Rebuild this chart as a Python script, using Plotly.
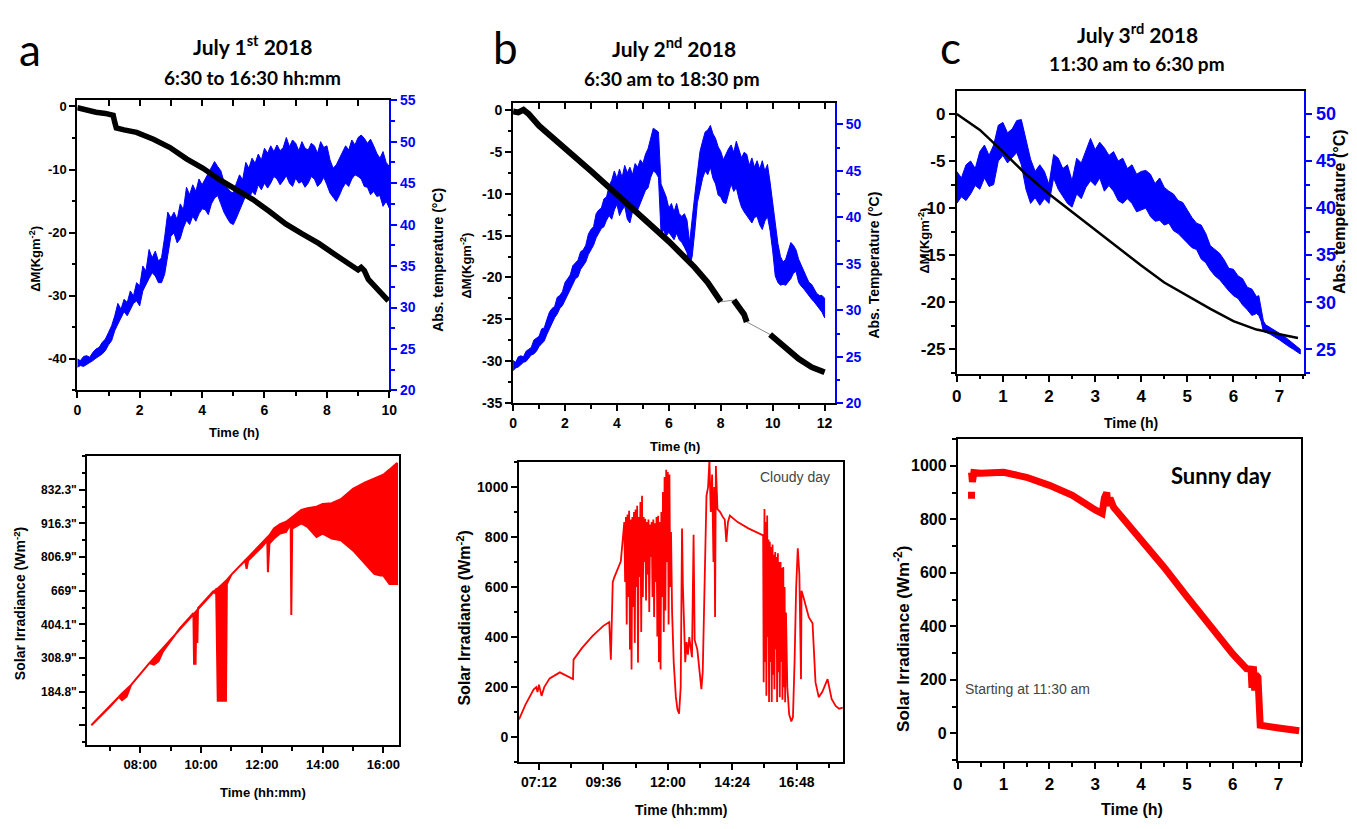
import plotly.graph_objects as go

W, H = 1357, 829

# ---------------- DATA ----------------
# Panel a (July 1st) : mass change and absorber temperature vs time (h)
t_dm_a = [0, 0.3, 0.6, 0.9, 1.15, 1.2, 1.25, 1.5, 1.9, 2.44, 2.97, 3.5, 4.03, 4.56, 5.09, 5.62,
          6.15, 6.68, 7.21, 7.74, 8.27, 8.8, 9.0, 9.1, 9.2, 9.33, 9.65, 9.97]
dm_a = [-0.2, -0.6, -0.9, -1.1, -1.4, -2.5, -3.4, -3.7, -4.1, -5.2, -6.5, -8.3, -9.8, -11.6, -13.2, -14.7,
        -16.6, -18.6, -20.2, -21.7, -23.5, -25.3, -25.9, -25.5, -26.0, -27.4, -29.0, -30.8]
t_temp_a = [0.0, 0.1, 0.2, 0.3, 0.4, 0.5, 0.6, 0.7, 0.8, 0.9, 1.0, 1.1, 1.2, 1.3, 1.4, 1.5, 1.6, 1.7,
            1.8, 1.9, 2.0, 2.1, 2.2, 2.3, 2.4, 2.5, 2.6, 2.7, 2.8, 2.9, 3.0, 3.1, 3.2, 3.3, 3.4, 3.5,
            3.6, 3.7, 3.8, 3.9, 4.0, 4.1, 4.2, 4.3, 4.4, 4.5, 4.6, 4.7, 4.8, 4.9, 5.0, 5.1, 5.2, 5.3,
            5.4, 5.5, 5.6, 5.7, 5.8, 5.9, 6.0, 6.1, 6.2, 6.3, 6.4, 6.5, 6.6, 6.7, 6.8, 6.9, 7.0, 7.1,
            7.2, 7.3, 7.4, 7.5, 7.6, 7.7, 7.8, 7.9, 8.0, 8.1, 8.2, 8.3, 8.4, 8.5, 8.6, 8.7, 8.8, 8.9,
            9.0, 9.1, 9.2, 9.3, 9.4, 9.5, 9.6, 9.7, 9.8, 9.9, 10.0]
temp_hi_a = [23.8, 23.6, 24.1, 24.2, 24.0, 24.6, 25.0, 25.2, 25.8, 26.2, 27.0, 27.8, 29.0, 30.5, 29.8,
             31.0, 30.6, 32.0, 31.4, 33.0, 32.6, 35.0, 34.4, 37.0, 36.0, 36.8, 35.6, 36.0, 38.5, 41.5,
             40.8, 41.5, 40.6, 42.5, 41.8, 44.5, 43.6, 44.8, 44.0, 45.5, 44.8, 45.5, 46.2, 47.0, 47.6,
             47.0, 46.5, 45.2, 44.5, 44.0, 43.8, 45.0, 46.0, 45.4, 47.5, 46.8, 48.0, 47.4, 48.5, 47.8,
             49.2, 48.6, 49.5, 48.8, 49.6, 48.9, 49.3, 50.5, 49.4, 50.2, 49.8, 48.9, 50.0, 49.2, 49.0,
             49.8, 49.5, 48.6, 50.0, 49.3, 49.5, 47.8, 46.8, 47.2, 48.0, 48.8, 49.5, 49.0, 50.2, 49.6,
             50.5, 50.8, 50.4, 49.8, 50.3, 49.5, 48.6, 48.0, 48.8, 47.5, 47.0]
temp_lo_a = [22.8, 23.0, 22.9, 23.2, 23.4, 23.6, 23.9, 24.2, 24.4, 24.8, 25.5, 26.0, 27.2, 28.0, 28.8,
             29.5, 29.0, 29.8, 30.5, 30.8, 30.2, 32.0, 32.8, 33.5, 34.2, 33.8, 33.0, 33.0, 34.0, 36.5,
             38.6, 39.0, 37.8, 38.3, 39.6, 40.5, 40.0, 41.0, 40.4, 41.3, 41.9, 41.8, 41.2, 42.5, 43.2,
             43.5, 42.5, 41.5, 40.8, 40.2, 40.0, 40.8, 41.5, 42.6, 43.5, 43.0, 44.0, 43.6, 44.8, 44.2,
             45.0, 44.4, 45.0, 45.8, 45.5, 44.8, 45.3, 45.9, 45.0, 44.6, 45.6, 45.0, 45.2, 44.5, 45.0,
             45.8, 45.5, 44.6, 45.0, 45.7, 44.8, 43.8, 43.3, 42.8, 43.5, 44.4, 45.0, 44.6, 45.5, 46.0,
             45.8, 45.5, 44.6, 44.5, 43.6, 44.0, 43.4, 43.5, 42.2, 42.8, 42.0]

# Panel b (July 2nd)
t_dm_b = [0, 0.2, 0.4, 0.6, 1.0, 1.5, 2.0, 3.0, 4.0, 5.0, 6.0, 7.0, 7.5, 8.0, 8.25, 8.5, 8.7, 8.9, 9.0,
          9.45, 9.9, 10.2, 10.6, 11.0, 11.5, 12.0]
dm_b = [-0.2, -0.3, 0.0, -0.5, -1.9, -3.2, -4.6, -7.3, -10.1, -12.8, -15.7, -18.8, -20.6, -22.9, None,
        -22.7, -23.6, -24.4, -25.3, None, -26.8, -27.6, -28.6, -29.7, -30.7, -31.3]
t_temp_b = [0.0, 0.1, 0.2, 0.3, 0.4, 0.5, 0.6, 0.7, 0.8, 0.9, 1.0, 1.1, 1.2, 1.3, 1.4, 1.5, 1.6, 1.7,
            1.8, 1.9, 2.0, 2.1, 2.2, 2.3, 2.4, 2.5, 2.6, 2.7, 2.8, 2.9, 3.0, 3.1, 3.2, 3.3, 3.4, 3.5,
            3.6, 3.7, 3.8, 3.9, 4.0, 4.1, 4.2, 4.3, 4.4, 4.5, 4.6, 4.7, 4.8, 4.9, 5.0, 5.1, 5.2, 5.3,
            5.4, 5.5, 5.6, 5.7, 5.8, 5.9, 6.0, 6.1, 6.2, 6.3, 6.4, 6.5, 6.6, 6.7, 6.8, 6.9, 7.0, 7.1,
            7.2, 7.3, 7.4, 7.5, 7.6, 7.7, 7.8, 7.9, 8.0, 8.1, 8.2, 8.3, 8.4, 8.5, 8.6, 8.7, 8.8, 8.9,
            9.0, 9.1, 9.2, 9.3, 9.4, 9.5, 9.6, 9.7, 9.8, 9.9, 10.0, 10.1, 10.2, 10.3, 10.4, 10.5, 10.6,
            10.7, 10.8, 10.9, 11.0, 11.1, 11.2, 11.3, 11.4, 11.5, 11.6, 11.7, 11.8, 11.9, 12.0]
temp_hi_b = [24.6, 24.4, 25.0, 25.1, 25.0, 25.6, 25.8, 26.0, 26.8, 27.0, 27.2, 28.0, 28.1, 29.0, 29.8,
             30.2, 30.4, 31.4, 31.6, 32.0, 33.0, 33.4, 33.8, 34.8, 35.1, 35.4, 36.3, 36.5, 37.0, 38.2,
             38.7, 39.0, 40.4, 40.8, 41.0, 42.0, 42.2, 43.4, 44.0, 45.0, 44.2, 45.2, 44.3, 45.6, 44.8,
             45.4, 44.6, 45.8, 45.4, 46.2, 45.8, 46.8, 47.4, 48.5, 49.6, 49.4, 49.2, 43.6, 42.8, 42.2,
             41.0, 41.5, 40.6, 41.5, 40.4, 40.1, 40.4, 39.7, 37.3, 40.1, 42.4, 44.8, 47.1, 48.2, 49.2,
             49.4, 49.9, 49.0, 48.5, 47.6, 47.1, 46.2, 46.8, 47.4, 47.8, 47.0, 48.2, 47.2, 46.4, 47.0,
             46.8, 45.6, 46.4, 45.4, 46.1, 45.2, 46.1, 45.0, 45.7, 43.8, 41.5, 39.4, 37.2, 35.8, 35.2,
             35.5, 36.4, 37.3, 37.0, 36.5, 35.5, 34.8, 34.1, 33.6, 33.0, 32.8, 32.3, 31.8, 31.6, 31.6,
             31.3]
temp_lo_b = [23.5, 23.8, 23.9, 24.1, 24.4, 24.5, 24.8, 25.2, 25.3, 25.6, 26.1, 26.4, 26.7, 27.4, 28.0,
             28.5, 29.2, 29.6, 30.2, 30.5, 31.0, 31.6, 32.2, 32.8, 33.4, 33.6, 34.4, 34.8, 35.2, 36.0,
             36.5, 37.0, 37.8, 38.3, 38.8, 39.0, 39.7, 40.2, 39.8, 40.8, 41.4, 40.2, 40.8, 41.2, 39.8,
             39.4, 40.6, 41.0, 40.8, 41.6, 42.2, 42.9, 43.2, 44.3, 45.0, 44.8, 44.3, 38.3, 38.6, 38.0,
             38.4, 38.0, 37.6, 38.3, 37.6, 37.3, 36.8, 36.2, 34.8, 35.8, 38.5, 41.6, 42.9, 44.2, 45.0,
             44.6, 45.4, 44.2, 43.6, 42.4, 42.2, 41.6, 41.5, 42.6, 43.6, 42.8, 43.2, 42.0, 41.1, 40.6,
             40.1, 39.8, 39.4, 40.0, 40.1, 39.2, 38.7, 39.6, 40.1, 38.6, 36.4, 33.7, 33.0, 32.7, 32.8,
             32.7, 33.0, 33.4, 34.0, 34.2, 33.0, 32.6, 32.3, 32.0, 31.6, 31.2, 30.9, 30.6, 30.2, 29.8,
             29.2]

# Panel c (July 3rd)
t_dm_c = [0, 0.5, 1, 1.5, 2, 2.5, 3, 3.5, 4, 4.5, 5, 5.5, 6, 6.5, 7, 7.4]
dm_c = [0, -1.7, -4.0, -6.4, -8.5, -10.4, -12.3, -14.2, -16.1, -17.9, -19.3, -20.7, -22.0, -22.9, -23.4, -23.8]
t_temp_c = [0.0, 0.1, 0.2, 0.3, 0.4, 0.5, 0.6, 0.7, 0.8, 0.9, 1.0, 1.1, 1.2, 1.3, 1.4, 1.5, 1.6, 1.7,
            1.8, 1.9, 2.0, 2.1, 2.2, 2.3, 2.4, 2.5, 2.6, 2.7, 2.8, 2.9, 3.0, 3.1, 3.2, 3.3, 3.4, 3.5,
            3.6, 3.7, 3.8, 3.9, 4.0, 4.1, 4.2, 4.3, 4.4, 4.5, 4.6, 4.7, 4.8, 4.9, 5.0, 5.1, 5.2, 5.3,
            5.4, 5.5, 5.6, 5.7, 5.8, 5.9, 6.0, 6.1, 6.2, 6.3, 6.4, 6.5, 6.55, 6.6, 6.65, 6.7, 6.8, 6.9,
            7.0, 7.1, 7.2, 7.3, 7.4, 7.45]
temp_hi_c = [43.9, 43.2, 44.6, 45.0, 44.2, 46.0, 46.7, 45.6, 46.7, 48.8, 49.1, 48.0, 48.4, 49.3, 49.4,
             47.2, 45.2, 43.9, 44.6, 43.9, 42.5, 45.7, 45.3, 44.2, 44.6, 42.9, 45.3, 44.8, 46.0, 47.4,
             46.2, 47.0, 46.4, 45.6, 46.0, 45.0, 45.3, 44.2, 44.6, 43.6, 43.9, 44.0, 43.6, 42.6, 43.2,
             42.2, 41.8, 41.5, 40.8, 40.6, 39.8, 39.0, 38.4, 38.2, 37.3, 36.0, 35.6, 35.2, 34.5, 33.6,
             33.5, 32.8, 32.5, 31.6, 31.4, 30.6, 30.7, 29.3, 28.0, 27.6, 27.3, 27.0, 26.7, 26.4, 26.0,
             25.6, 25.2, 25.0]
temp_lo_c = [40.5, 41.2, 40.8, 41.5, 42.4, 42.0, 43.2, 42.3, 42.5, 45.0, 45.6, 44.8, 45.3, 45.9, 44.6,
             42.0, 40.5, 41.1, 40.3, 41.0, 40.5, 43.2, 42.0, 41.2, 40.5, 40.1, 41.5, 41.0, 42.2, 42.9,
             42.4, 43.2, 41.8, 42.4, 41.8, 40.8, 40.5, 41.0, 40.5, 39.6, 39.8, 40.0, 39.1, 38.6, 38.7,
             38.2, 38.4, 37.6, 37.3, 36.8, 36.3, 35.8, 35.6, 34.6, 34.2, 33.4, 32.8, 32.4, 31.8, 31.2,
             30.7, 30.4, 29.7, 29.2, 28.6, 28.8, 28.6, 28.0, 26.9, 26.8, 26.6, 26.3, 26.0, 25.7, 25.3,
             25.0, 24.7, 24.5]

# Left-axis tick labels (plain hyphen minus as printed)
dm_a_ticks = [-40, -30, -20, -10, 0]
dm_a_ticktext = ['-40', '-30', '-20', '-10', '0']
dm_b_ticks = [-35, -30, -25, -20, -15, -10, -5, 0]
dm_b_ticktext = ['-35', '-30', '-25', '-20', '-15', '-10', '-5', '0']
dm_c_ticks = [-25, -20, -15, -10, -5, 0]
dm_c_ticktext = ['-25', '-20', '-15', '-10', '-5', '0']

# Bottom a : solar irradiance (axis units, garbled tick labels) vs clock hour
t_irr_a = [6.39, 7.0, 7.3, 7.4, 7.55, 7.7, 8.3, 8.45, 8.6, 8.75, 9.3, 9.75, 9.77, 9.82, 9.84, 9.88, 9.9,
           10.4, 10.5, 10.55, 10.82, 10.85, 11.0, 11.45, 11.5, 11.55, 12.0, 12.18, 12.2, 12.25, 12.4,
           12.6, 12.8, 12.95, 12.97, 13.0, 13.3, 13.5, 13.8, 14.0, 14.3, 14.6, 15.0, 15.4, 15.7, 15.9,
           16.0, 16.2, 16.45]
irr_top_a = [0.0, 0.55, 0.85, 0.95, 1.08, 1.2, 1.85, 2.0, 2.15, 2.3, 2.88, 3.33, 3.35, 3.4, 3.42, 3.46,
             3.48, 3.98, 4.05, 4.07, 4.3, 4.32, 4.48, 4.9, 4.95, 5.0, 5.4, 5.58, 5.6, 5.65, 5.85, 5.98,
             6.05, 6.15, 6.18, 6.2, 6.4, 6.45, 6.5, 6.58, 6.6, 6.72, 7.03, 7.22, 7.33, 7.4, 7.45, 7.6, 7.8]
irr_low_a = [0.0, 0.55, 0.85, 0.75, 0.85, 1.2, 1.85, 1.8, 1.9, 2.2, 2.88, 3.33, 1.83, 1.83, 3.0, 2.45,
             3.48, 3.98, 3.9, 0.73, 0.73, 4.2, 4.48, 4.9, 4.65, 4.9, 5.3, 5.5, 4.55, 5.4, 5.55, 5.7,
             5.75, 6.0, 3.28, 5.85, 6.0, 5.9, 5.6, 5.7, 5.55, 5.5, 5.2, 4.8, 4.5, 4.45, 4.45, 4.2, 4.2]
irr_a_tickvals = [0, 1, 2, 3, 4, 5, 6, 7]
irr_a_ticktext = ['', '184.8"', '308.9"', '404.1"', '669"', '806.9"', '916.3"', '832.3"']
hour_a_tickvals = [8, 10, 12, 14, 16]
hour_a_ticktext = ['08:00', '10:00', '12:00', '14:00', '16:00']

# Bottom b : cloudy day irradiance (W/m2) vs clock hour
t_irr_b = [6.46, 6.7, 7.0, 7.1, 7.15, 7.2, 7.3, 7.4, 7.6, 7.98, 8.47, 8.49, 8.8, 9.2, 9.6, 9.82, 9.88,
           9.95, 10.0, 10.25,
           10.38, 10.41, 10.44, 10.47, 10.50, 10.53, 10.56, 10.59, 10.62, 10.65, 10.68, 10.71, 10.74,
           10.77, 10.80, 10.83, 10.86, 10.89, 10.92, 10.95, 10.98, 11.01, 11.04, 11.07, 11.10, 11.13,
           11.16, 11.19, 11.22, 11.25, 11.28, 11.31, 11.34, 11.37, 11.40, 11.43, 11.46, 11.49, 11.52,
           11.55, 11.58, 11.61, 11.64, 11.67, 11.70, 11.73, 11.76, 11.79, 11.82, 11.85, 11.88, 11.91,
           11.94, 11.97, 12.00, 12.03, 12.06, 12.09, 12.12, 12.16, 12.22, 12.30, 12.36, 12.42, 12.48,
           12.53, 12.56, 12.60, 12.65, 12.70, 12.75, 12.80, 12.85, 12.90, 12.96, 13.00, 13.1, 13.2,
           13.25, 13.30, 13.36, 13.44, 13.5, 13.55, 13.6, 13.65, 13.7, 13.73, 13.76, 13.79, 13.85,
           13.95, 14.05, 14.12, 14.18, 14.24, 14.31, 14.6, 15.0, 15.3, 15.55,
           15.57, 15.60, 15.62, 15.65, 15.67, 15.70, 15.72, 15.75, 15.77, 15.80, 15.82, 15.85, 15.87,
           15.90, 15.92, 15.95, 15.97, 16.00, 16.02, 16.05, 16.07, 16.10, 16.12, 16.15, 16.17, 16.20,
           16.22, 16.25, 16.27, 16.30, 16.32, 16.35, 16.37, 16.40, 16.45, 16.52, 16.60, 16.66, 16.72,
           16.78, 16.84, 16.9, 16.96, 16.98, 17.05, 17.15, 17.25, 17.39, 17.50, 17.62, 17.75, 17.95,
           18.1, 18.25, 18.38, 18.52]
irr_b = [71, 130, 190, 200, 180, 210, 165, 200, 235, 259, 232, 310, 356, 405, 445, 460, 310,
         620, 637, 703,
         860, 620, 880, 450, 890, 560, 905, 350, 870, 271, 880, 520, 900,
         377, 910, 600, 925, 298, 880, 640, 940, 420, 965, 560, 880, 700,
         873, 546, 860, 650, 870, 500, 850, 720, 860, 560, 870, 480, 855,
         620, 880, 402, 885, 300, 860, 271, 900, 560, 980, 420, 1040, 506,
         1069, 700, 1060, 450, 1050, 600, 820, 500, 300, 161, 110, 94, 200,
         834, 611, 420, 300, 380, 330, 400, 360, 320, 809, 389, 350, 250,
         192, 260, 600, 965, 1000, 1108, 900, 1050, 700, 1000, 480, 1084, 912,
         900, 880, 870, 781, 860, 886, 860, 835, 820, 807,
         220, 912, 300, 860, 166, 886, 400, 790, 141, 781, 300, 760, 141,
         770, 250, 729, 192, 740, 350, 720, 141, 735, 260, 700, 160, 700,
         300, 676, 150, 680, 200, 600, 140, 498, 200, 90, 63, 80, 300,
         600, 755, 650, 232, 585, 560, 520, 480, 455, 219, 160, 180, 232,
         153, 125, 114, 118]
hour_b_tickvals = [7.2, 9.6, 12.0, 14.4, 16.8]
hour_b_ticktext = ['07:12', '09:36', '12:00', '14:24', '16:48']

# Bottom c : sunny day irradiance (W/m2) vs time (h)
t_irr_c = [0.3, 0.32, 0.35, 0.5, 1.0, 1.5, 2.0, 2.5, 3.0, 3.15, 3.2, 3.25, 3.28, 3.32, 3.4, 3.6, 4.0, 4.5,
           5.0, 5.5, 6.0, 6.3, 6.4, 6.42, 6.45, 6.48, 6.5, 6.55, 6.6, 7.0, 7.45]
irr_c = [975, 940, 975, 972, 976, 957, 927, 890, 835, 822, 880, 900, 850, 880, 845, 804, 731, 621,
         511, 401, 297, 242, 240, 170, 250, 160, 220, 210, 30, 20, 10]
t_irr_c_outlier = [0.3]
irr_c_outlier = [890]

# ---------------- FIGURE ----------------
BLUE = '#0000FF'
RED = '#FF0000'
FONT = 'Liberation Sans, Arial, sans-serif'
TFONT = 'Lato, Open Sans, sans-serif'


def px(x):
    return x / W


def py(y):
    return 1 - y / H


fig = go.Figure()


def band(t, lo, hi, xa, ya, color, lw=1):
    fig.add_trace(go.Scatter(x=list(t) + list(t)[::-1], y=list(hi) + list(lo)[::-1],
                             fill='toself', fillcolor=color, mode='lines',
                             line=dict(color=color, width=lw), xaxis=xa, yaxis=ya,
                             hoverinfo='skip', showlegend=False))


def line(t, v, xa, ya, color, width, connect=False):
    fig.add_trace(go.Scatter(x=t, y=v, mode='lines', line=dict(color=color, width=width),
                             xaxis=xa, yaxis=ya, connectgaps=connect, showlegend=False,
                             hoverinfo='skip'))


# top row: temperature on base axis (right side), mass change on overlay (left side) -> black drawn on top
band(t_temp_a, temp_lo_a, temp_hi_a, 'x', 'y', BLUE)
line(t_dm_a, dm_a, 'x', 'y2', 'black', 5.5)

band(t_temp_b, temp_lo_b, temp_hi_b, 'x2', 'y3', BLUE)
tb_ok = [t for t, v in zip(t_dm_b, dm_b) if v is not None]
vb_ok = [v for v in dm_b if v is not None]
line(tb_ok, vb_ok, 'x2', 'y4', '#888888', 1)
line(t_dm_b, dm_b, 'x2', 'y4', 'black', 6)

band(t_temp_c, temp_lo_c, temp_hi_c, 'x3', 'y5', BLUE)
line(t_dm_c, dm_c, 'x3', 'y6', 'black', 2.5)

# bottom row
band(t_irr_a, irr_low_a, irr_top_a, 'x4', 'y7', RED, lw=2)
line(t_irr_b, irr_b, 'x5', 'y8', RED, 1.8)
line(t_irr_c, irr_c, 'x6', 'y9', RED, 7)
fig.add_trace(go.Scatter(x=t_irr_c_outlier, y=irr_c_outlier, mode='markers',
                         marker=dict(color=RED, size=7, symbol='square'),
                         xaxis='x6', yaxis='y9', showlegend=False, hoverinfo='skip'))

# empty carriers so the inward top-frame tick axes of panels a and b get drawn
for xa_name, ya_name in (('x7', 'y'), ('x8', 'y3')):
    fig.add_trace(go.Scatter(x=[None], y=[None], mode='lines', xaxis=xa_name, yaxis=ya_name,
                             showlegend=False, hoverinfo='skip'))


def tf(size, color='black'):
    return dict(family=FONT, size=size, color=color, weight='bold')


def axis(domain, rng, size, dtick=None, minor=None, tickvals=None, ticktext=None,
         color='black', mirror=False, **kw):
    d = dict(domain=domain, range=rng, showline=True, linecolor=color, linewidth=2,
             mirror=mirror, ticks='outside', ticklen=6, tickwidth=2, tickcolor=color,
             showgrid=False, zeroline=False, tickfont=tf(size, color), layer='above traces')
    if tickvals is not None:
        d.update(tickmode='array', tickvals=tickvals, ticktext=ticktext)
    else:
        d.update(tickmode='linear', tick0=0, dtick=dtick)
    if minor is not None:
        d['minor'] = dict(tickmode='linear', tick0=minor[0], dtick=minor[1], ticks='outside',
                          ticklen=3.5, tickwidth=1.5, tickcolor=color, showgrid=False)
    d.update(kw)
    return d


def top_ticks(domain, rng, dtick, anchor, over):
    # inward tick marks along the top frame of the upper panels
    return dict(domain=domain, range=rng, overlaying=over, side='top', anchor=anchor,
                showline=False, ticks='inside', ticklen=6, tickwidth=2, tickcolor='black',
                tickmode='linear', tick0=0, dtick=dtick, showticklabels=False,
                showgrid=False, zeroline=False)


lay = {}
# panel a top
xa_dom = [px(73), px(388)]
ya_dom = [py(390), py(94)]
lay['xaxis'] = axis(xa_dom, [0, 10], 14, dtick=2, minor=(0, 1), anchor='y', mirror=True)
lay['yaxis'] = axis(ya_dom, [20, 55], 14, dtick=5, minor=(0, 2.5), color=BLUE, side='right', anchor='x')
lay['yaxis2'] = axis(ya_dom, [-45, 1], 13, minor=(0, 5), tickvals=dm_a_ticks, ticktext=dm_a_ticktext,
                     overlaying='y', side='left', anchor='x')
lay['xaxis7'] = top_ticks(xa_dom, [0, 10], 1, 'y', 'x')
# panel b top
xb_dom = [px(513), px(838)]
yb_dom = [py(403), py(97)]
lay['xaxis2'] = axis(xb_dom, [0, 12.4], 14, dtick=2, minor=(0, 1), anchor='y3', mirror=True)
lay['yaxis3'] = axis(yb_dom, [20, 52.3], 14, dtick=5, minor=(0, 2.5), color=BLUE, side='right', anchor='x2')
lay['yaxis4'] = axis(yb_dom, [-35, 0.8], 14, minor=(0, 2.5), tickvals=dm_b_ticks, ticktext=dm_b_ticktext,
                     overlaying='y3', side='left', anchor='x2')
lay['xaxis8'] = top_ticks(xb_dom, [0, 12.4], 1, 'y3', 'x2')
# panel c top
xc_dom = [px(961), px(1312)]
yc_dom = [py(373), py(85)]
lay['xaxis3'] = axis(xc_dom, [0, 7.54], 17, dtick=1, minor=(0, 0.5), anchor='y5', mirror=True)
lay['yaxis5'] = axis(yc_dom, [22.4, 52.4], 18, dtick=5, minor=(0, 2.5), color=BLUE, side='right', anchor='x3')
lay['yaxis6'] = axis(yc_dom, [-27.6, 2.4], 17, minor=(0, 2.5), tickvals=dm_c_ticks, ticktext=dm_c_ticktext,
                     overlaying='y5', side='left', anchor='x3')
# bottom a
lay['xaxis4'] = axis([px(83), px(398)], [6.255, 16.52], 13, minor=(0, 1), tickvals=hour_a_tickvals,
                     ticktext=hour_a_ticktext, anchor='y7', mirror=True)
lay['yaxis7'] = axis([py(752), py(457)], [-0.6, 8.0], 12, minor=(0, 0.5), tickvals=irr_a_tickvals,
                     ticktext=irr_a_ticktext, anchor='x4', mirror=True)
# bottom b
lay['xaxis5'] = axis([px(519), px(846)], [6.46, 18.52], 14, minor=(0, 1.2), tickvals=hour_b_tickvals,
                     ticktext=hour_b_ticktext, anchor='y8', mirror=True)
lay['yaxis8'] = axis([py(769), py(463)], [-100, 1100], 14, dtick=200, minor=(0, 100), anchor='x5', mirror=True)
# bottom c
lay['xaxis6'] = axis([px(962), px(1309)], [0, 7.5], 17, dtick=1, minor=(0, 0.5), anchor='y9', mirror=True)
lay['yaxis9'] = axis([py(768), py(439)], [-104, 1102], 16, dtick=200, minor=(0, 100), anchor='x6', mirror=True)

fig.update_layout(**lay)

ann = []


def text(x, y, s, size, family=FONT, bold=True, color='black', angle=0, xanchor='center'):
    ann.append(dict(x=px(x), y=py(y), xref='paper', yref='paper', text=s, showarrow=False,
                    textangle=angle, xanchor=xanchor, yanchor='middle',
                    font=dict(family=family, size=size, color=color,
                              weight='bold' if bold else 'normal')))


# panel letters
text(25, 42, 'a', 44, family=TFONT, bold=False)
text(505, 40, 'b', 44, family=TFONT, bold=False)
text(955, 40, 'c', 44, family=TFONT, bold=False)
# titles
text(250, 38, 'July 1<sup>st</sup> 2018', 21, family=TFONT)
text(250, 71, '6:30 to 16:30 hh:mm', 19, family=TFONT)
text(675, 40, 'July 2<sup>nd</sup> 2018', 21, family=TFONT)
text(673, 72, '6:30 am to 18:30 pm', 19, family=TFONT)
text(1143, 25, 'July 3<sup>rd</sup> 2018', 21, family=TFONT)
text(1143, 57, '11:30 am to 6:30 pm', 19, family=TFONT)
# axis titles - top row
text(30, 256, 'ΔM(Kgm<sup>-2</sup>)', 13, angle=-90)
text(437, 257, 'Abs. temperature (°C)', 14, angle=-90)
text(231, 433, 'Time (h)', 13)
text(465, 263, 'ΔM(Kgm<sup>-2</sup>)', 13, angle=-90)
text(877, 262, 'Abs. Temperature (°C)', 14, angle=-90)
text(676, 447, 'Time (h)', 13)
text(928, 237, 'ΔM(Kgm<sup>-2</sup>)', 13, angle=-90)
text(1348, 208, 'Abs. temperature (°C)', 16, angle=-90)
text(1137, 423, 'Time (h)', 14)
# axis titles - bottom row
text(15, 607, 'Solar Irradiance (Wm<sup>-2</sup>)', 14, angle=-90)
text(260, 800, 'Time (hh:mm)', 13)
text(463, 622, 'Solar Irradiance (Wm<sup>-2</sup>)', 16, angle=-90)
text(683, 818, 'Time (hh:mm)', 14)
text(905, 643, 'Solar Irradiance (Wm<sup>-2</sup>)', 17, angle=-90)
text(1138, 817, 'Time (h)', 16)
# in-plot labels
text(798, 478, 'Cloudy day', 14, bold=False, color='#444444')
text(1228, 477, 'Sunny day', 22, family=TFONT)
text(1032, 694, 'Starting at 11:30 am', 14, bold=False, color='#444444')

fig.update_layout(annotations=ann, width=W, height=H, margin=dict(l=0, r=0, t=0, b=0),
                  paper_bgcolor='white', plot_bgcolor='white', showlegend=False)

fig.write_html('out.html')
